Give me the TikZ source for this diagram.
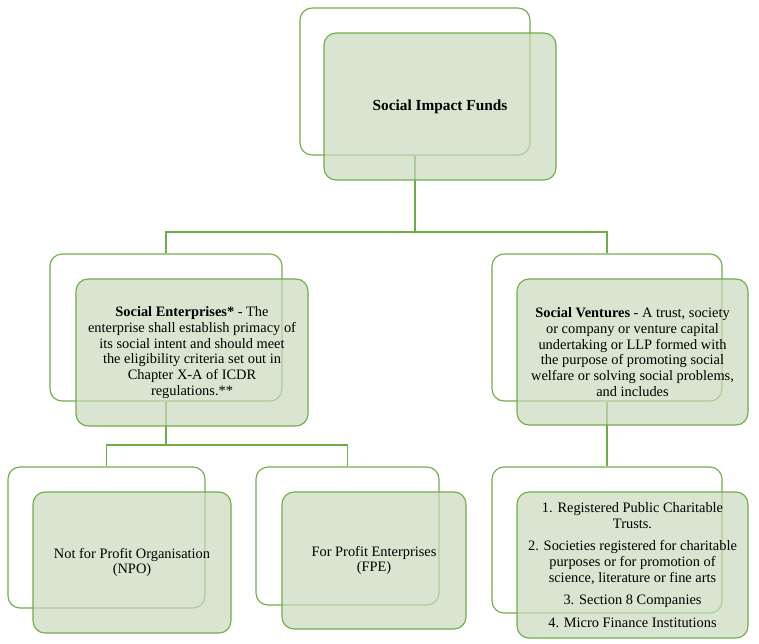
\documentclass[tikz,border=0pt]{standalone}
\usepackage{fontspec}
\setmainfont{Liberation Serif}
\definecolor{gline}{RGB}{112,173,71}
\definecolor{gfill}{RGB}{201,218,189}
\begin{document}
\begin{tikzpicture}[x=0.75pt,y=-0.75pt,
  backbox/.style={draw=gline, line width=0.85pt, rounded corners=9pt, inner sep=0pt},
  frontbox/.style={draw=gline, line width=0.85pt, fill=gfill, fill opacity=0.7, text opacity=1,
    rounded corners=9pt, inner sep=0pt, align=center, font=\fontsize{10.8}{11.8}\selectfont},
  conn/.style={draw=gline, line width=0.85pt}]
\useasboundingbox (0,0) rectangle (759,643);

% back boxes
\node[backbox, minimum width={230*0.75pt}, minimum height={147*0.75pt}] (tb) at (415,81.5) {};
\node[backbox, minimum width={232*0.75pt}, minimum height={147*0.75pt}] (seb) at (166,327.5) {};
\node[backbox, minimum width={230*0.75pt}, minimum height={147*0.75pt}] (svb) at (607,327.5) {};
\node[backbox, minimum width={197*0.75pt}, minimum height={141*0.75pt}] (npob) at (106.5,537.5) {};
\node[backbox, minimum width={183*0.75pt}, minimum height={138*0.75pt}] (fpeb) at (347.5,536) {};
\node[backbox, minimum width={230*0.75pt}, minimum height={146*0.75pt}] (incb) at (607,540) {};

% connectors
\coordinate (j1) at (415,232);
\coordinate (j2) at (166,445);
\draw[conn] (tb.south) -- (j1);
\draw[conn] (j1) -| (seb.north);
\draw[conn] (j1) -| (svb.north);
\draw[conn] (seb.south) -- (j2);
\draw[conn] (j2) -| (npob.north);
\draw[conn] (j2) -| (fpeb.north);
\draw[conn] (svb.south) -- (incb.north);

% front boxes
\node[frontbox, minimum width={232*0.75pt}, minimum height={147*0.75pt}, font=\fontsize{11.5}{13}\selectfont] (tf) at (440,106.5)
  {\textbf{Social Impact Funds}};
\node[frontbox, minimum width={232*0.75pt}, minimum height={147*0.75pt}] (sef) at (192,352.5)
  {\textbf{Social Enterprises*} - The\\ enterprise shall establish primacy of\\ its social intent and should meet\\ the eligibility criteria set out in\\ Chapter X-A of ICDR\\ regulations.**};
\node[frontbox, minimum width={231*0.75pt}, minimum height={146*0.75pt}] (svf) at (632.5,352)
  {\textbf{Social Ventures} - A trust, society\\ or company or venture capital\\ undertaking or LLP formed with\\ the purpose of promoting social\\ welfare or solving social problems,\\ and includes};
\node[frontbox, minimum width={198*0.75pt}, minimum height={141*0.75pt}] (npof) at (132,562.5)
  {Not for Profit Organisation\\ (NPO)};
\node[frontbox, minimum width={184*0.75pt}, minimum height={137*0.75pt}] (fpef) at (374,560.5)
  {For Profit Enterprises\\ (FPE)};
\node[frontbox, minimum width={231*0.75pt}, minimum height={146*0.75pt}] (incf) at (632.5,565)
  {1. Registered Public Charitable\\ Trusts.\\[5pt] 2. Societies registered for charitable\\ purposes or for promotion of\\ science, literature or fine arts\\[5pt] 3. Section 8 Companies\\[5pt] 4. Micro Finance Institutions};
\end{tikzpicture}
\end{document}
